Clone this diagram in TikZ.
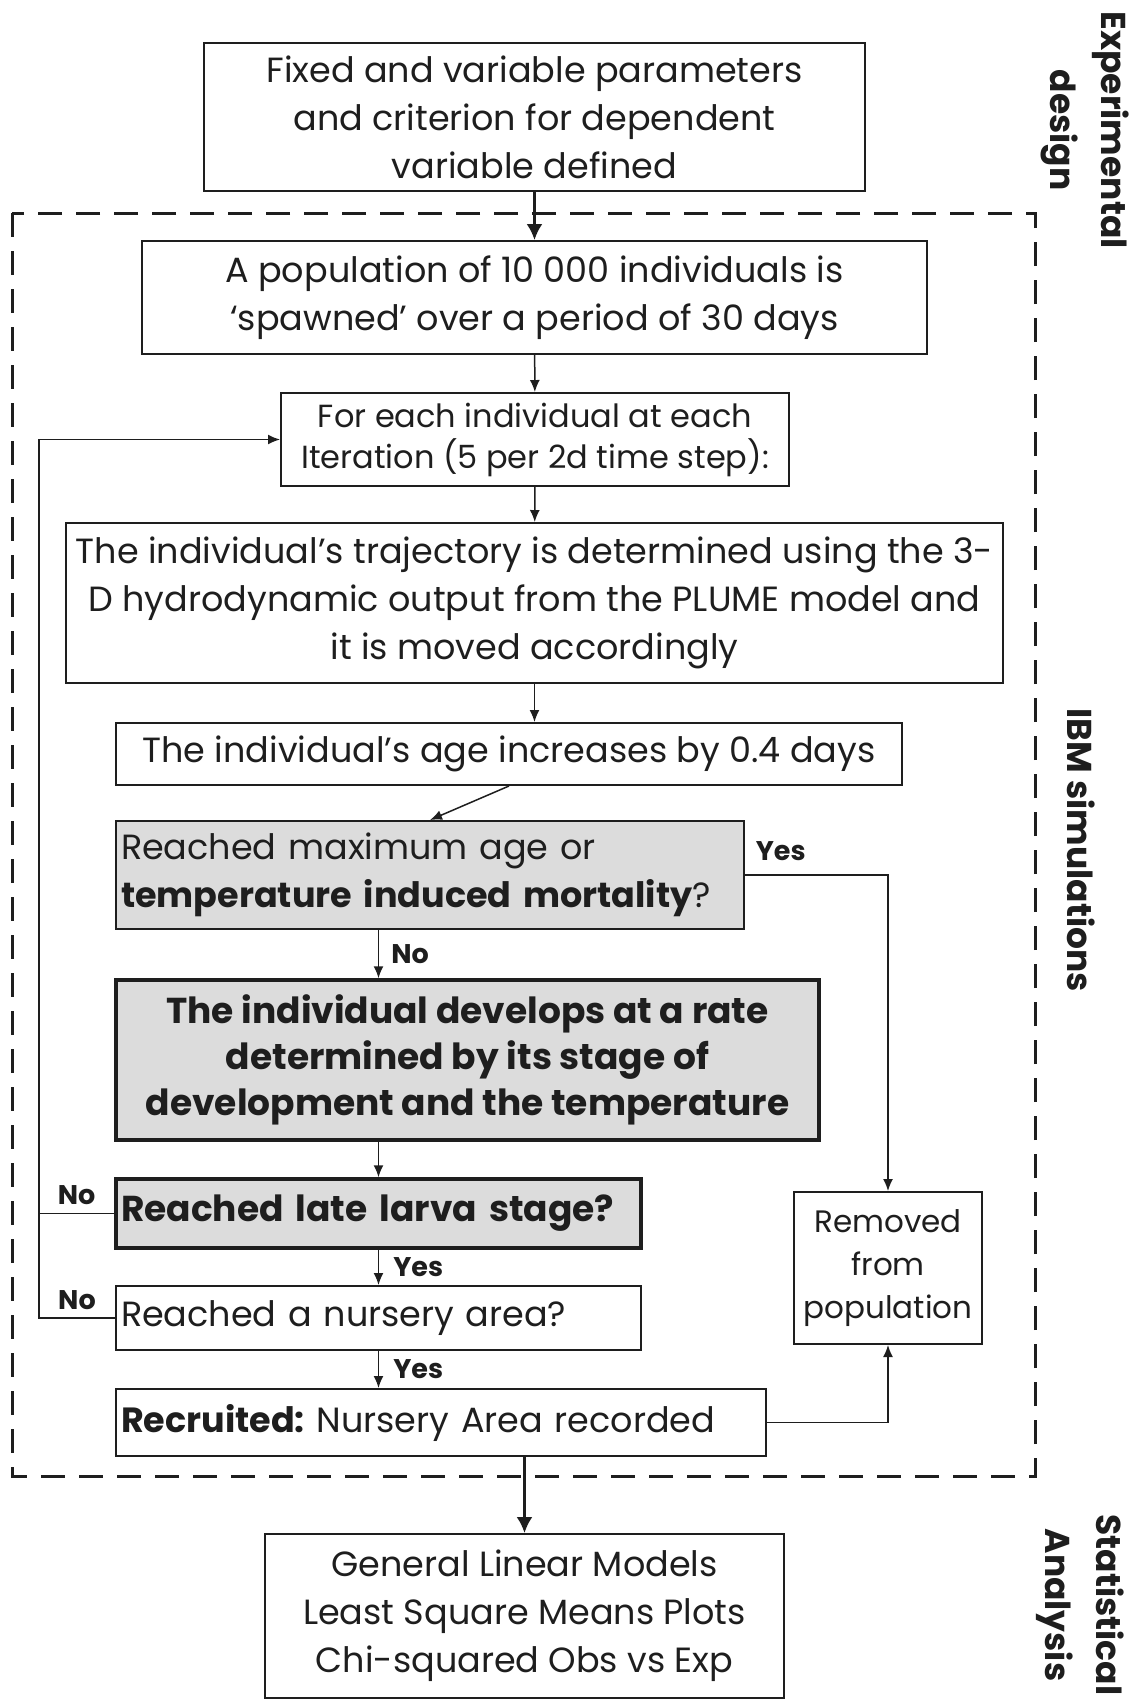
\documentclass[tikz,border=0pt]{standalone}
\usepackage{fontspec}
\setmainfont{Poppins}
\usepackage{xcolor}
\usepackage{tikz}
\usetikzlibrary{calc,arrows.meta}

\definecolor{ink}{HTML}{1E1E1E}
\definecolor{shade}{HTML}{DCDCDC}

\frenchspacing

\begin{document}
\begin{tikzpicture}[x=1pt, y=-1pt,
        box/.style={draw=ink, line width=2pt, inner sep=0pt, align=center, text=ink},
        greybox/.style={box, fill=shade},
        heavybox/.style={greybox, line width=3.5pt},
        body/.style={font=\fontsize{35}{48}\selectfont},
        small/.style={font=\fontsize{32}{41}\selectfont},
        smaller/.style={font=\fontsize{31}{43}\selectfont},
        heavy/.style={font=\bfseries\fontsize{36}{46}\selectfont},
        flow/.style={draw=ink, line width=1.5pt, -{Latex[length=12pt,width=10pt]}},
        bigflow/.style={draw=ink, line width=2.5pt, -{Latex[length=16pt,width=16pt]}},
        answer/.style={font=\bfseries\fontsize{27}{30}\selectfont, text=ink, inner sep=2pt},
        side/.style={font=\bfseries\fontsize{34.5}{51}\selectfont, rotate=-90, align=center, text=ink}]

        \useasboundingbox (0,0) rectangle (1132,1701);

        \draw[ink, line width=3pt, dash pattern=on 24pt off 14pt] (12,213) rectangle (1035,1476);

        \node[box, body, minimum width=661pt, minimum height=148pt] (fixed) at (534.5,117) {Fixed and variable parameters\\and criterion for dependent\\variable defined};

        \node[box, body, minimum width=785pt, minimum height=113pt] (spawn) at (534.5,297.5) {A population of 10 000 individuals is\\‘spawned’ over a period of 30 days};

        \node[box, small, minimum width=508pt, minimum height=93pt] (iter) at (535,439.5) {For each individual at each\\Iteration (5 per 2d time step):};

        \node[box, body, minimum width=937pt, minimum height=160pt] (traj) at (534.5,603) {The individual’s trajectory is determined using the 3-\\D hydrodynamic output from the PLUME model and\\it is moved accordingly};

        \node[box, body, minimum width=786pt, minimum height=62pt] (age) at (509,754) {The individual’s age increases by 0.4 days};

        \node[greybox, body, text width=618pt, align=left, minimum width=628pt, minimum height=108pt] (mort) at (430,875) {Reached maximum age or\\\textbf{temperature induced mortality}?};

        \node[heavybox, heavy, minimum width=703pt, minimum height=160pt] (develop) at (467.5,1060) {The individual develops at a rate\\determined by its stage of\\development and the temperature};

        \node[heavybox, heavy, text width=515pt, align=left, minimum width=525pt, minimum height=69pt] (larva) at (378.5,1213.5) {Reached late larva stage?};

        \node[box, body, text width=515pt, align=left, minimum width=525pt, minimum height=64pt] (nursery) at (378.5,1318) {Reached a nursery area?};

        \node[box, body, text width=640pt, align=left, minimum width=650pt, minimum height=67pt] (recruit) at (441,1422.5) {\textbf{Recruited:} Nursery Area recorded};

        \node[box, smaller, minimum width=188pt, minimum height=152pt] (removed) at (888,1268) {Removed\\from\\population};

        \node[box, body, minimum width=519pt, minimum height=164pt] (stat) at (524.5,1616) {General Linear Models\\Least Square Means Plots\\Chi-squared Obs vs Exp};

        \node[side] (design) at (1085,130) {Experimental\\design};

        \node[side] (ibm) at (1081,850) {IBM simulations};

        \node[side] (stats) at (1080,1605) {Statistical\\Analysis};

        \coordinate (loop) at (39,0);

        \draw[bigflow] (fixed) -- (spawn);

        \draw[flow] (spawn) -- (iter);

        \draw[flow] (iter) -- (traj);

        \draw[flow] (traj.south) -- (traj.south |- age.north);

        \draw[flow] (age.south) -- (mort.north);

        \draw[flow] (mort.east) node[answer, anchor=south west, xshift=8pt, yshift=12pt] {Yes} -| (removed.north);

        \draw[flow] (mort.south -| larva) -- node[answer, right, xshift=10pt] {No} (develop.north -| larva);

        \draw[flow] (develop.south -| larva) -- (larva);

        \draw[flow] (larva) -- node[answer, right, xshift=12pt] {Yes} (nursery);

        \draw[flow] (nursery) -- node[answer, right, xshift=12pt] {Yes} (recruit.north -| nursery);

        \draw[flow] (recruit.east) -| (removed.south);

        \draw[ink, line width=1.5pt] (larva.west) -- node[answer, above, yshift=6pt] {No} (larva.west -| loop);

        \draw[flow] (nursery.west) -- node[answer, above, yshift=6pt] {No} (nursery.west -| loop) -- (iter.west -| loop) -- (iter.west);

        \draw[bigflow] (recruit.south -| stat.north) -- (stat.north);

    \end{tikzpicture}
\end{document}
